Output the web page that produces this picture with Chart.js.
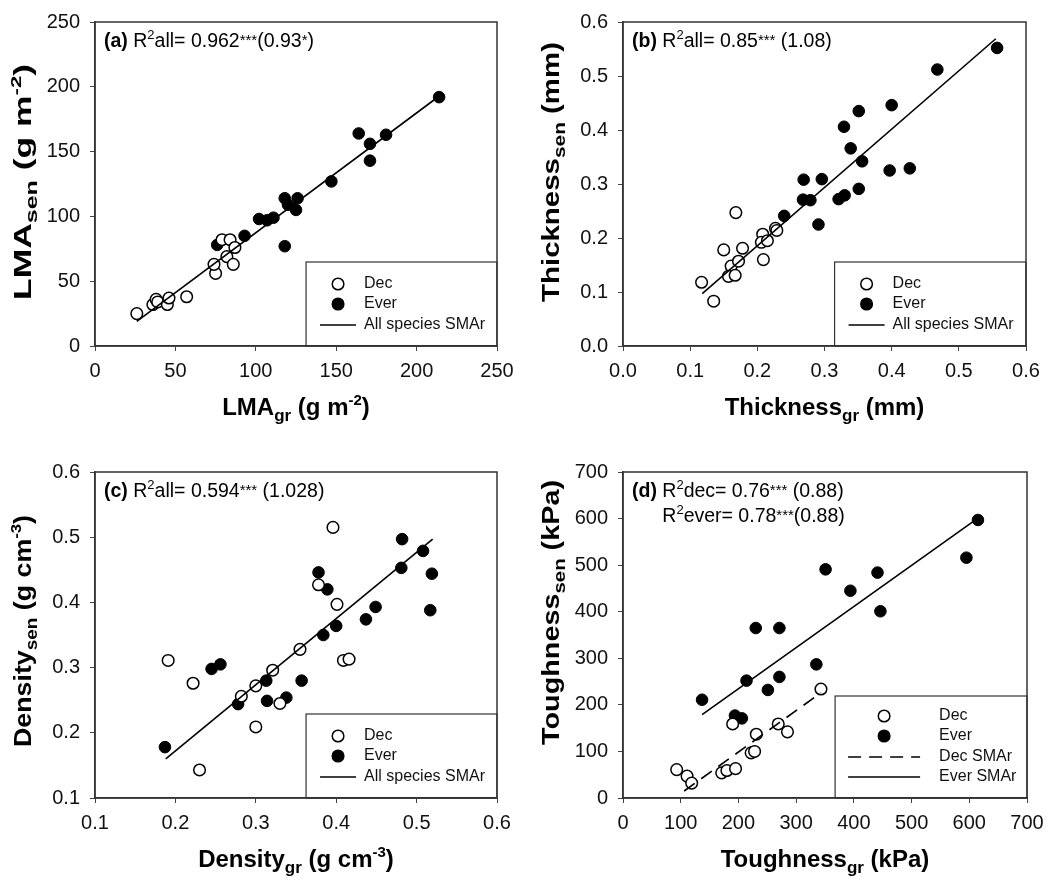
<!DOCTYPE html>
<html>
<head>
<meta charset="utf-8">
<script src="https://cdn.jsdelivr.net/npm/chart.js@4.4.1/dist/chart.umd.min.js"></script>
<style>
  body { margin: 0; background: #fff; width: 1054px; height: 880px; position: relative; overflow: hidden; }
  canvas { position: absolute; }
</style>
</head>
<body>
<canvas id="pa" width="527" height="450" style="left:0;top:0"></canvas>
<canvas id="pb" width="527" height="450" style="left:527px;top:0"></canvas>
<canvas id="pc" width="527" height="430" style="left:0;top:450px"></canvas>
<canvas id="pd" width="527" height="430" style="left:527px;top:450px"></canvas>
<script>
// (a) LMA
const lmaDecX = [26, 36, 38, 39, 45, 46, 57, 75, 74, 79, 84, 82, 86, 87];
const lmaDecY = [25, 32, 36, 34, 32, 37, 38, 56, 63, 82, 82, 69, 63, 76];
const lmaEverX = [76, 93, 102, 107, 111, 118, 120, 126, 125, 118, 147, 164, 171, 171, 181, 214];
const lmaEverY = [78, 85, 98, 97, 99, 114, 109, 114, 105, 77, 127, 164, 156, 143, 163, 192];
const lmaFitX = [26, 211];
const lmaFitY = [19, 190];

// (b) Thickness
const thickDecX = [0.168, 0.117, 0.135, 0.150, 0.178, 0.161, 0.172, 0.157, 0.167, 0.208, 0.206, 0.215, 0.209, 0.227, 0.229];
const thickDecY = [0.247, 0.118, 0.083, 0.178, 0.181, 0.148, 0.157, 0.129, 0.131, 0.207, 0.192, 0.195, 0.160, 0.218, 0.214];
const thickEverX = [0.240, 0.268, 0.279, 0.269, 0.296, 0.291, 0.321, 0.330, 0.329, 0.339, 0.351, 0.356, 0.351, 0.397, 0.400, 0.427, 0.468, 0.557];
const thickEverY = [0.241, 0.271, 0.270, 0.308, 0.309, 0.225, 0.272, 0.279, 0.406, 0.366, 0.435, 0.342, 0.291, 0.325, 0.446, 0.329, 0.512, 0.552];
const thickFitX = [0.118, 0.555];
const thickFitY = [0.097, 0.569];

// (c) Density
const densDecX = [0.191, 0.222, 0.230, 0.282, 0.300, 0.300, 0.321, 0.355, 0.330, 0.378, 0.396, 0.401, 0.409, 0.416];
const densDecY = [0.311, 0.276, 0.143, 0.256, 0.272, 0.209, 0.296, 0.328, 0.245, 0.427, 0.515, 0.397, 0.311, 0.313];
const densEverX = [0.187, 0.245, 0.256, 0.278, 0.313, 0.314, 0.338, 0.357, 0.378, 0.384, 0.389, 0.400, 0.437, 0.449, 0.482, 0.481, 0.508, 0.519, 0.517];
const densEverY = [0.178, 0.298, 0.305, 0.244, 0.280, 0.249, 0.254, 0.280, 0.446, 0.350, 0.420, 0.364, 0.374, 0.393, 0.497, 0.453, 0.479, 0.444, 0.388];
const densFitX = [0.188, 0.520];
const densFitY = [0.160, 0.497];

// (d) Toughness
const toughDecX = [93, 111, 119, 171, 180, 195, 190, 222, 228, 231, 269, 285, 343];
const toughDecY = [61, 47, 32, 54, 59, 63, 159, 97, 100, 137, 159, 142, 234];
const toughEverX = [137, 194, 206, 214, 230, 251, 271, 271, 335, 351, 394, 441, 446, 595, 615];
const toughEverY = [211, 177, 171, 252, 365, 232, 260, 365, 287, 491, 445, 484, 401, 516, 597];
const toughDecFitX = [106, 343];
const toughDecFitY = [15, 226];
const toughEverFitX = [137, 615];
const toughEverFitY = [179, 601];

const FONT = '"Liberation Sans", Arial, Helvetica, sans-serif';

const pts = (xs, ys) => xs.map((x, i) => ({ x: x, y: ys[i] }));

function fitSet(xs, ys, dash) {
    return { data: pts(xs, ys), showLine: true, pointRadius: 0, borderColor: '#000',
             borderWidth: 1.6, borderDash: dash || [], fill: false };
}
function decSet(xs, ys) {
    return { data: pts(xs, ys), pointRadius: 5.8, pointBackgroundColor: '#fff',
             pointBorderColor: '#000', pointBorderWidth: 1.5 };
}
function everSet(xs, ys) {
    return { data: pts(xs, ys), pointRadius: 5.8, pointBackgroundColor: '#000',
             pointBorderColor: '#000', pointBorderWidth: 1 };
}

// rich text pieces
const T = t => ({ t: t, size: 24, bold: true, dy: 0 });
const SUB = t => ({ t: t, size: 17, bold: true, dy: 6 });
const SUP = t => ({ t: t, size: 15, bold: true, dy: -10 });
const A = (t, b) => ({ t: t, size: 19.5, bold: !!b, dy: 0 });
const A2 = { t: '2', size: 13, bold: false, dy: -8 };
const AST = t => ({ t: t, size: 15, bold: false, dy: -2 });

function partsWidth(ctx, parts) {
    let w = 0;
    parts.forEach(p => {
        ctx.font = (p.bold ? 'bold ' : '') + p.size + 'px ' + FONT;
        w += ctx.measureText(p.t).width;
    });
    return w;
}
function drawParts(ctx, parts, x, y) {
    ctx.textAlign = 'left';
    ctx.textBaseline = 'alphabetic';
    ctx.fillStyle = '#000';
    parts.forEach(p => {
        ctx.font = (p.bold ? 'bold ' : '') + p.size + 'px ' + FONT;
        ctx.fillText(p.t, x, y + p.dy);
        x += ctx.measureText(p.t).width;
    });
}

const panelExtras = {};

const panelPlugin = {
    id: 'panelExtras',
    afterDraw(chart) {
        const cfg = panelExtras[chart.canvas.id];
        const ctx = chart.ctx;
        const a = chart.chartArea;
        ctx.save();
        // frame
        ctx.strokeStyle = '#333';
        ctx.lineWidth = 1.5;
        ctx.strokeRect(a.left, a.top, a.right - a.left, a.bottom - a.top);

        // legend box
        const wide = cfg.legend.length === 4;
        const bx = a.left + 0.525 * (a.right - a.left);
        const bh = wide ? 102 : 84;
        const by = a.bottom - bh;
        ctx.lineWidth = 1.2;
        ctx.strokeRect(bx, by, a.right - bx, bh);
        const rowY = wide ? [20, 40, 61, 81] : [22, 42, 63];
        const l0 = wide ? 13 : 14, l1 = wide ? 85 : 50, tx = wide ? 104 : 58;
        const mx = (l0 + l1) / 2;
        cfg.legend.forEach((item, i) => {
            const yy = by + rowY[i];
            if (item.kind === 'dec' || item.kind === 'ever') {
                ctx.beginPath();
                ctx.arc(bx + mx, yy, 5.8, 0, Math.PI * 2);
                ctx.fillStyle = item.kind === 'dec' ? '#fff' : '#000';
                ctx.fill();
                ctx.lineWidth = 1.5;
                ctx.strokeStyle = '#000';
                ctx.stroke();
            } else {
                ctx.beginPath();
                ctx.setLineDash(item.kind === 'dash' ? [13, 8] : []);
                ctx.moveTo(bx + l0, yy);
                ctx.lineTo(bx + l1, yy);
                ctx.lineWidth = 1.6;
                ctx.strokeStyle = '#000';
                ctx.stroke();
                ctx.setLineDash([]);
            }
            ctx.fillStyle = '#111';
            ctx.font = '16px ' + FONT;
            ctx.textAlign = 'left';
            ctx.textBaseline = 'middle';
            ctx.fillText(item.label, bx + tx, yy);
        });

        // annotation
        const ax = a.left + 9, ay = a.top + 25;
        drawParts(ctx, cfg.annot[0], ax, ay);
        if (cfg.annot[1]) {
            const indent = partsWidth(ctx, [A('(d) ', true)]);
            drawParts(ctx, cfg.annot[1], ax + indent, ay + 25);
        }

        // x title
        const xw = partsWidth(ctx, cfg.xTitle);
        drawParts(ctx, cfg.xTitle, (a.left + a.right) / 2 - xw / 2, a.bottom + 69);

        // y title, stretched along its length as in the original figure
        const yw = partsWidth(ctx, cfg.yTitle);
        const span = cfg.ySpan;
        const stretch = (span[1] - span[0]) / yw;
        ctx.translate(a.left - 72, (span[0] + span[1]) / 2);
        ctx.rotate(-Math.PI / 2);
        ctx.scale(stretch, 1);
        drawParts(ctx, cfg.yTitle, -yw / 2, 8);
        ctx.restore();
    }
};

function makePanel(id, area, xr, yr, datasets, extras) {
    panelExtras[id] = extras;
    const canvas = document.getElementById(id);
    const W = canvas.width, H = canvas.height;
    const tickFont = { family: FONT, size: 20 };
    const axis = (r) => ({
        type: 'linear', min: r.min, max: r.max,
        ticks: { stepSize: r.step, autoSkip: false, maxRotation: 0, color: '#111', font: tickFont,
                 callback: v => Number(v).toFixed(r.dec) },
        grid: { drawOnChartArea: false, drawTicks: true, tickLength: 5, color: '#444', lineWidth: 1 },
        border: { display: true, color: '#333', width: 1.5 }
    });
    const xs = axis(xr);
    xs.ticks.padding = 8;
    xs.afterFit = s => { s.height = H - area.bottom; };
    const ys = axis(yr);
    ys.ticks.padding = 10;
    ys.afterFit = s => { s.width = area.left; };
    new Chart(canvas.getContext('2d'), {
        type: 'scatter',
        data: { datasets: datasets },
        options: {
            responsive: false,
            animation: false,
            layout: { padding: { top: area.top, right: W - area.right, left: 0, bottom: 0 } },
            plugins: { legend: { display: false }, tooltip: { enabled: false } },
            scales: { x: xs, y: ys }
        },
        plugins: [panelPlugin]
    });
}

const allLegend = [
    { kind: 'dec', label: 'Dec' },
    { kind: 'ever', label: 'Ever' },
    { kind: 'line', label: 'All species SMAr' }
];

makePanel('pa', { left: 95, top: 20, right: 497, bottom: 346 },
    { min: 0, max: 250, step: 50, dec: 0 }, { min: 0, max: 250, step: 50, dec: 0 },
    [fitSet(lmaFitX, lmaFitY), decSet(lmaDecX, lmaDecY), everSet(lmaEverX, lmaEverY)],
    {
        legend: allLegend,
        annot: [[A('(a)', true), A(' R'), A2, A('all= 0.962'), AST('***'), A('(0.93'), AST('*'), A(')')]],
        xTitle: [T('LMA'), SUB('gr'), T(' (g m'), SUP('-2'), T(')')],
        yTitle: [T('LMA'), SUB('sen'), T(' (g m'), SUP('-2'), T(')')],
        ySpan: [64, 300]
    });

makePanel('pb', { left: 96, top: 20, right: 499, bottom: 346 },
    { min: 0, max: 0.6, step: 0.1, dec: 1 }, { min: 0, max: 0.6, step: 0.1, dec: 1 },
    [fitSet(thickFitX, thickFitY), decSet(thickDecX, thickDecY), everSet(thickEverX, thickEverY)],
    {
        legend: allLegend,
        annot: [[A('(b)', true), A(' R'), A2, A('all= 0.85'), AST('***'), A(' (1.08)')]],
        xTitle: [T('Thickness'), SUB('gr'), T(' (mm)')],
        yTitle: [T('Thickness'), SUB('sen'), T(' (mm)')],
        ySpan: [42, 302]
    });

makePanel('pc', { left: 95, top: 20, right: 497, bottom: 348 },
    { min: 0.1, max: 0.6, step: 0.1, dec: 1 }, { min: 0.1, max: 0.6, step: 0.1, dec: 1 },
    [fitSet(densFitX, densFitY), decSet(densDecX, densDecY), everSet(densEverX, densEverY)],
    {
        legend: allLegend,
        annot: [[A('(c)', true), A(' R'), A2, A('all= 0.594'), AST('***'), A(' (1.028)')]],
        xTitle: [T('Density'), SUB('gr'), T(' (g cm'), SUP('-3'), T(')')],
        yTitle: [T('Density'), SUB('sen'), T(' (g cm'), SUP('-3'), T(')')],
        ySpan: [65, 297]
    });

makePanel('pd', { left: 96, top: 20, right: 500, bottom: 348 },
    { min: 0, max: 700, step: 100, dec: 0 }, { min: 0, max: 700, step: 100, dec: 0 },
    [fitSet(toughEverFitX, toughEverFitY), fitSet(toughDecFitX, toughDecFitY, [13, 8]),
     decSet(toughDecX, toughDecY), everSet(toughEverX, toughEverY)],
    {
        legend: [
            { kind: 'dec', label: 'Dec' },
            { kind: 'ever', label: 'Ever' },
            { kind: 'dash', label: 'Dec SMAr' },
            { kind: 'line', label: 'Ever SMAr' }
        ],
        annot: [
            [A('(d)', true), A(' R'), A2, A('dec= 0.76'), AST('***'), A(' (0.88)')],
            [A('R'), A2, A('ever= 0.78'), AST('***'), A('(0.88)')]
        ],
        xTitle: [T('Toughness'), SUB('gr'), T(' (kPa)')],
        yTitle: [T('Toughness'), SUB('sen'), T(' (kPa)')],
        ySpan: [30, 295]
    });
</script>
</body>
</html>
